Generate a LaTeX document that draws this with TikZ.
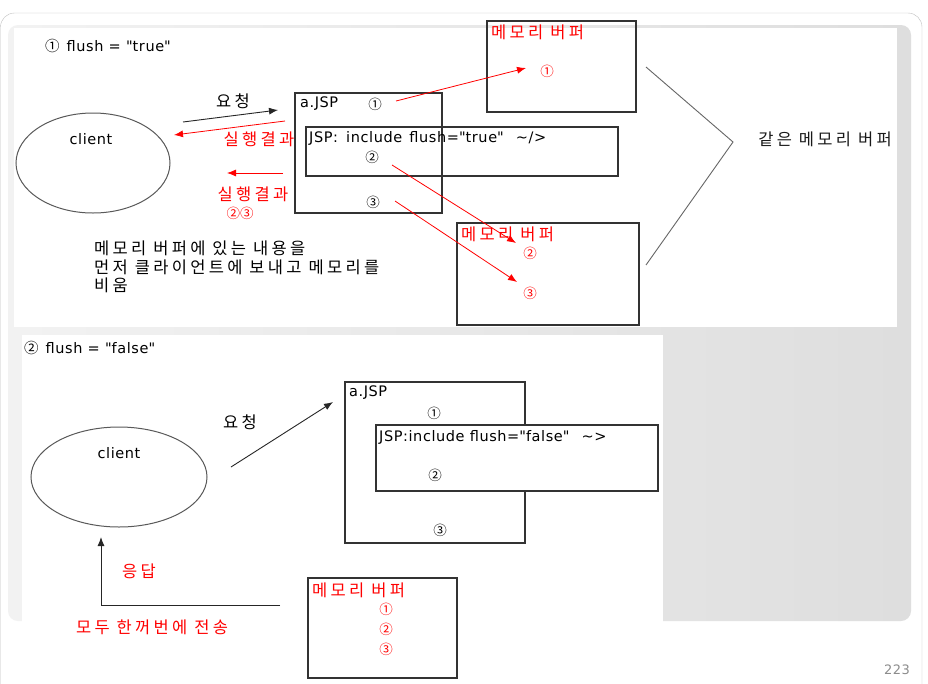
\documentclass[tikz,border=0pt]{standalone}
\usepackage{fontspec}
\setmainfont{DejaVu Sans}[LetterSpace=4]
\newfontfamily\kr[LetterSpace=20]{Noto Sans CJK KR}
\newfontfamily\kn{Noto Sans CJK KR}
\usetikzlibrary{arrows.meta,shapes.geometric}
\newcommand\qt{\textquotedbl}
\tikzset{
  box/.style={draw=black!80,line width=1.1pt,inner sep=0pt,outer sep=0pt},
  client/.style={ellipse,draw=black!65,line width=1pt,inner sep=0pt,outer sep=0pt},
  lat/.style={inner sep=0pt,font=\fontsize{14.5}{17}\selectfont},
  kor/.style={inner sep=0pt,font=\kr\fontsize{16.5}{18.5}\selectfont},
  num/.style={inner sep=0pt,font=\kn\fontsize{13.5}{15}\selectfont},
  blackarrow/.style={-{Latex[length=9pt,width=7pt]},line width=0.9pt,draw=black!85},
  redarrow/.style={-{Latex[length=9pt,width=7pt]},line width=0.8pt,draw=red},
}
\begin{document}
\begin{tikzpicture}[x=1pt,y=-1pt]
		\useasboundingbox (0,0) rectangle (928,683);
		\clip (0,0) rectangle (928,683);
		\draw[black!25][fill=white][rounded corners=14pt](0.5,13) rectangle (922,700);
		\shade[rounded corners=10pt][left color=black!5,right color=black!13](8,25) rectangle (911,621);
		\fill[white](14,28) rectangle (897,327);
		\fill[white](22,335) rectangle (663,683);
		\node[text=black!45][font=\fontsize{13}{15}\selectfont] (page) at (897,670) {223};
		
		\node[lat,anchor=west] (title1) at (45,46) {{\kn ①}\hspace{7pt}flush = \qt true\qt};
		\node[client,minimum width=154pt,minimum height=100pt] (client1) at (93,163) {};
		\node[lat] (client1t) at (91,139) {client};
		
		\node[box,minimum width=147pt,minimum height=120pt] (jsp1) at (368.5,153) {};
		\node[box,minimum width=312pt,minimum height=49pt] (inc1) at (462,151.5) {};
		\node[box,minimum width=149pt,minimum height=91pt] (buf1) at (561.5,66.5) {};
		\node[box,minimum width=182pt,minimum height=102pt] (buf2) at (548,274) {};
		
		\node[lat,anchor=west] (jsp1t) at (300,104) {a.JSP};
		\node[num] (jsp1a) at (375,104) {①};
		\node[lat,anchor=west] (inc1t) at (309,138) {JSP:\hspace{3pt} include\hspace{2pt} flush=\qt true\qt\hspace{12pt}\textasciitilde/>};
		\node[num] (jsp1b) at (372,157) {②};
		\node[num] (jsp1c) at (373,202) {③};
		\node[kor,text=red,anchor=west] (buf1t) at (491,32) {메모리 버퍼};
		\node[num,text=red] (buf1a) at (547,71) {①};
		\node[kor,text=red,anchor=west] (buf2t) at (461,234) {메모리 버퍼};
		\node[num,text=red] (buf2b) at (530,253) {②};
		\node[num,text=red] (buf2c) at (530,293) {③};
		
		\node[kor] (req1) at (233,101) {요청};
		\node[kor,text=red] (res1) at (259,139) {실행결과};
		\node[kor,text=red] (res2) at (253,194) {실행결과};
		\node[num,text=red] (res2n) at (240,213) {②③};
		\node[kor,text=black!90] (same) at (825,139) {같은 메모리 버퍼};
		\node[kor,anchor=north west,align=left,font=\kr\fontsize{16.5}{18.5}\selectfont] (note1) at (94,241) {메모리 버퍼에 있는 내용을\\먼저 클라이언트에 보내고 메모리를\\비움};
		
		\coordinate (req1s) at (183,122);
		\coordinate (req1e) at (278,110);
		\coordinate (res1s) at (285,121);
		\coordinate (res1e) at (174,135);
		\coordinate (res2s) at (283,173);
		\coordinate (res2e) at (227,173);
		\draw[blackarrow](req1s)--(req1e);
		\draw[redarrow](res1s)--(res1e);
		\draw[redarrow](res2s)--(res2e);
		
		\coordinate (go1s) at (396,101);
		\coordinate (go1e) at (526,68);
		\coordinate (go2s) at (392,165);
		\coordinate (go2e) at (516,243);
		\coordinate (go3s) at (395,201);
		\coordinate (go3e) at (517,282);
		\draw[redarrow](go1s)--(go1e);
		\draw[redarrow](go2s)--(go2e);
		\draw[redarrow](go3s)--(go3e);
		
		\coordinate (brace1) at (646,67);
		\coordinate (brace2) at (733,142);
		\coordinate (brace3) at (646,265);
		\draw[black!60][line width=0.9pt](brace1)--(brace2)--(brace3);
		
		\node[lat,anchor=west] (title2) at (24,348) {{\kn ②}\hspace{7pt}flush = \qt false\qt};
		\node[client,minimum width=176pt,minimum height=100pt] (client2) at (119,477) {};
		\node[lat] (client2t) at (119,453) {client};
		
		\node[box,minimum width=180pt,minimum height=161pt] (jsp2) at (435,462.5) {};
		\node[box,fill=white,minimum width=282pt,minimum height=66pt] (inc2) at (517,458) {};
		\node[box,minimum width=149pt,minimum height=100pt] (buf3) at (382.5,628) {};
		
		\node[lat,anchor=west] (jsp2t) at (349,393) {a.JSP};
		\node[num] (jsp2a) at (434,413) {①};
		\node[lat,anchor=west] (inc2t) at (379,437) {JSP:include flush=\qt false\qt\hspace{12pt}\textasciitilde>};
		\node[num] (jsp2b) at (435,475) {②};
		\node[num] (jsp2c) at (440,530) {③};
		\node[kor,text=red,anchor=west] (buf3t) at (312,590) {메모리 버퍼};
		\node[num,text=red] (buf3a) at (386,609) {①};
		\node[num,text=red] (buf3b) at (386,629) {②};
		\node[num,text=red] (buf3c) at (386,649) {③};
		
		\node[kor] (req2) at (240,422) {요청};
		\node[kor,text=red] (ans2) at (139,571) {응답};
		\node[kor,text=red] (send2) at (152,627) {모두 한꺼번에 전송};
		
		\coordinate (req2s) at (231,467);
		\coordinate (req2e) at (333,402);
		\draw[blackarrow](req2s)--(req2e);
		\coordinate (ans2s) at (280,605);
		\coordinate (ans2m) at (101,605);
		\coordinate (ans2e) at (101,537);
		\draw[blackarrow](ans2s)--(ans2m)--(ans2e);
		
\end{tikzpicture}
\end{document}
